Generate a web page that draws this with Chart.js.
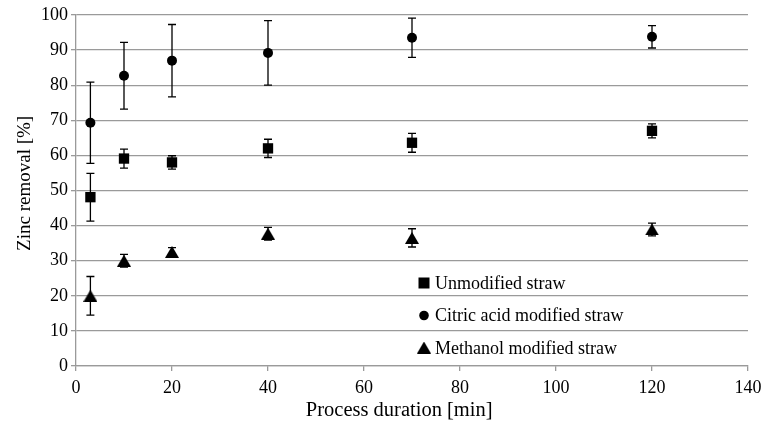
<!DOCTYPE html>
<html>
<head>
<meta charset="utf-8">
<script src="https://cdn.jsdelivr.net/npm/chart.js@4"></script>
<style>
  body { margin: 0; background: #fff; }
  #chart { display: block; }
</style>
</head>
<body>
<canvas id="chart" width="775" height="423"></canvas>
<script>
// Process duration [min]
const times = [3, 10, 20, 40, 70, 120];

// Zinc removal [%] and standard deviations
const unmodified = [48.1, 59.1, 58.0, 62.0, 63.6, 67.0];
const unmodifiedSd = [6.8, 2.7, 1.9, 2.6, 2.7, 2.0];

const citric = [69.3, 82.7, 87.0, 89.2, 93.5, 93.8];
const citricSd = [11.6, 9.5, 10.3, 9.2, 5.6, 3.2];

const methanol = [20.0, 30.0, 32.5, 37.7, 36.5, 38.9];
const methanolSd = [5.5, 1.8, 1.2, 1.8, 2.6, 1.8];

const seriesLabels = ['Unmodified straw', 'Citric acid modified straw', 'Methanol modified straw'];
const xTicks = { min: 0, max: 140, step: 20 };
const yTicks = { min: 0, max: 100, step: 10 };

const FONT = "'Liberation Serif', 'Times New Roman', serif";
const GRID = '#9a9a9a';
const NBSP = '\u00a0';

// triangle marker centred on its box (Excel style)
function triangleImage(w, h) {
  const c = document.createElement('canvas');
  c.width = w; c.height = h;
  const g = c.getContext('2d');
  g.fillStyle = '#000';
  g.beginPath();
  g.moveTo(w / 2, 0);
  g.lineTo(w, h);
  g.lineTo(0, h);
  g.closePath();
  g.fill();
  return c;
}
const tri = triangleImage(14, 12);

function toPoints(ys) {
  return times.map((t, i) => ({ x: t, y: ys[i] }));
}

// vertical error bars, drawn below the markers
const errorBars = {
  id: 'errorBars',
  beforeDatasetsDraw(chart) {
    const { ctx } = chart;
    const yScale = chart.scales.y;
    ctx.save();
    ctx.strokeStyle = '#000';
    ctx.lineWidth = 1.3;
    chart.data.datasets.forEach((ds, di) => {
      const meta = chart.getDatasetMeta(di);
      meta.data.forEach((pt, i) => {
        const v = ds.data[i].y, e = ds.sd[i];
        const top = yScale.getPixelForValue(v + e);
        const bot = yScale.getPixelForValue(v - e);
        ctx.beginPath();
        ctx.moveTo(pt.x, top); ctx.lineTo(pt.x, bot);
        ctx.moveTo(pt.x - 4, top); ctx.lineTo(pt.x + 4, top);
        ctx.moveTo(pt.x - 4, bot); ctx.lineTo(pt.x + 4, bot);
        ctx.stroke();
      });
    });
    ctx.restore();
  }
};

// legend sitting inside the plot, lower middle
const insideLegend = {
  id: 'insideLegend',
  afterDatasetsDraw(chart, args, opts) {
    const { ctx, chartArea } = chart;
    const x = chartArea.left + opts.dx;
    let y = chartArea.bottom - opts.dy;
    ctx.save();
    ctx.fillStyle = '#000';
    ctx.font = '18px ' + FONT;
    ctx.textBaseline = 'middle';
    chart.data.datasets.forEach(ds => {
      if (ds.pointStyle === 'rect') {
        ctx.fillRect(x - 5.5, y - 5.5, 11, 11);
      } else if (ds.pointStyle === 'circle') {
        ctx.beginPath(); ctx.arc(x, y, 4.8, 0, Math.PI * 2); ctx.fill();
      } else {
        ctx.drawImage(tri, x - 7, y - 6.5);
      }
      ctx.fillText(ds.label, x + 11, y + 1);
      y += opts.gap;
    });
    ctx.restore();
  }
};

new Chart(document.getElementById('chart'), {
  type: 'scatter',
  data: {
    datasets: [
      { label: seriesLabels[0], data: toPoints(unmodified), sd: unmodifiedSd,
        pointStyle: 'rect', pointRadius: 7.3, backgroundColor: '#000', borderColor: '#000', borderWidth: 0 },
      { label: seriesLabels[1], data: toPoints(citric), sd: citricSd,
        pointStyle: 'circle', pointRadius: 5, backgroundColor: '#000', borderColor: '#000', borderWidth: 0 },
      { label: seriesLabels[2], data: toPoints(methanol), sd: methanolSd,
        pointStyle: tri, pointRadius: 7, backgroundColor: '#000', borderColor: '#000', borderWidth: 0 }
    ]
  },
  options: {
    responsive: false,
    animation: false,
    devicePixelRatio: 1,
    layout: { padding: { top: 15, right: 27, left: 0, bottom: 0 } },
    plugins: {
      legend: { display: false },
      tooltip: { enabled: false },
      insideLegend: { dx: 348, dy: 83, gap: 32.5 }
    },
    scales: {
      x: {
        type: 'linear',
        min: xTicks.min, max: xTicks.max,
        afterFit: s => { s.height = 57; },
        ticks: { stepSize: xTicks.step, color: '#000', padding: 6, font: { family: FONT, size: 18 } },
        grid: { drawOnChartArea: false, drawTicks: true, tickLength: 5, color: GRID, lineWidth: 1.3 },
        border: { color: GRID, width: 1.3 },
        // trailing spaces nudge the title left, centred on the whole figure like the original
        title: { display: true, text: 'Process duration [min]' + NBSP.repeat(5), color: '#000',
                 font: { family: FONT, size: 20.5 }, padding: { top: 0, bottom: 0 } }
      },
      y: {
        min: yTicks.min, max: yTicks.max,
        afterFit: s => { s.width = 76; },
        ticks: { stepSize: yTicks.step, color: '#000', padding: 3, font: { family: FONT, size: 18 } },
        grid: { color: GRID, lineWidth: 1.3, tickLength: 5 },
        border: { color: GRID, width: 1.3 },
        title: { display: true, text: NBSP.repeat(3) + 'Zinc removal [%]', color: '#000',
                 font: { family: FONT, size: 19 }, padding: { top: 14, bottom: 0 } }
      }
    }
  },
  plugins: [errorBars, insideLegend]
});
</script>
</body>
</html>
